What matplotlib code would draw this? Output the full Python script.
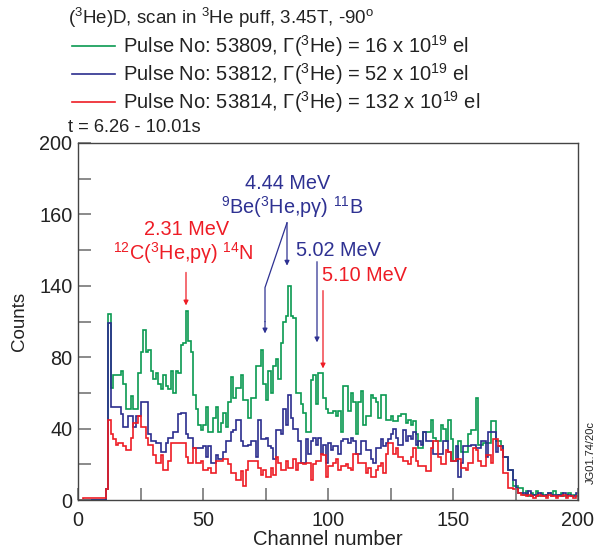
import numpy as np
import matplotlib
matplotlib.use("Agg")
import matplotlib.pyplot as plt
from matplotlib.lines import Line2D

plt.rcParams['font.family'] = ['Liberation Sans', 'DejaVu Sans']
plt.rcParams['mathtext.fontset'] = 'custom'
plt.rcParams['mathtext.rm'] = 'Liberation Sans'
plt.rcParams['mathtext.it'] = 'Liberation Sans:italic'
plt.rcParams['mathtext.bf'] = 'Liberation Sans:bold'

# ---------------- data ----------------
channels = np.arange(0, 201)  # bin edges

green_53809 = ([0] * 11 +
    [6, 104, 63, 70, 70, 70, 72, 65, 51, 51,
     58, 51, 51, 71, 83, 95, 83, 84, 72, 68,
     71, 65, 62, 70, 64, 62, 72, 60, 72, 71,
     87, 88, 106, 89, 83, 59, 51, 42, 39, 42,
     52, 38, 38, 46, 52, 38, 43, 49, 41, 55,
     69, 57, 63, 63, 70, 56, 56, 46, 57, 57,
     75, 75, 84, 65, 56, 72, 60, 75, 79, 68,
     88, 100, 103, 120, 103, 102, 60, 60, 54, 49,
     38, 38, 67, 70, 54, 71, 71, 57, 51, 49,
     49, 50, 47, 50, 38, 64, 64, 50, 60, 55,
     37, 55, 61, 42, 47, 47, 59, 57, 55, 46,
     59, 59, 45, 45, 47, 44, 44, 47, 48, 48,
     43, 45, 42, 44, 37, 29, 29, 38, 38, 38,
     45, 35, 33, 33, 42, 40, 33, 45, 34, 22,
     22, 33, 27, 27, 27, 37, 39, 39, 57, 31,
     31, 32, 32, 32, 44, 44, 33, 33, 30, 24,
     24, 17, 17, 8, 8, 7, 7,
     3, 5, 2, 4, 3, 5, 2, 4, 3, 2, 4, 3, 5, 2, 3, 4, 2, 3, 4, 2, 3, 2])

blue_53812 = ([0] * 11 +
    [6, 99, 52, 52, 52, 52, 48, 41, 41, 47,
     47, 41, 47, 47, 55, 55, 55, 37, 33, 33,
     32, 32, 27, 27, 32, 35, 35, 38, 38, 48,
     49, 49, 37, 35, 35, 29, 29, 29, 29, 30,
     24, 30, 21, 21, 25, 23, 23, 27, 33, 33,
     38, 39, 45, 45, 33, 30, 30, 31, 33, 33,
     24, 45, 34, 34, 35, 30, 29, 23, 39, 39,
     37, 51, 42, 59, 46, 40, 40, 33, 21, 21,
     34, 26, 33, 35, 31, 35, 26, 31, 21, 32,
     28, 30, 30, 26, 33, 34, 34, 32, 35, 33,
     26, 26, 33, 33, 28, 28, 23, 21, 29, 29,
     34, 30, 32, 34, 37, 40, 35, 31, 31, 39,
     33, 36, 34, 38, 31, 33, 31, 38, 33, 33,
     33, 26, 26, 26, 26, 33, 33, 27, 22, 22,
     30, 13, 21, 30, 30, 30, 31, 31, 29, 29,
     33, 33, 24, 38, 38, 38, 27, 30, 30, 24,
     24, 17, 17, 11, 7, 4, 4,
     4, 3, 5, 2, 3, 2, 4, 3, 2, 3, 4, 2, 3, 2, 3, 2, 4, 2, 3, 2, 2, 4])

red_53814 = ([0, 0, 1, 1, 1, 1, 1, 1, 1, 1, 1] +
    [6, 45, 37, 34, 31, 32, 32, 30, 28, 28,
     35, 43, 43, 47, 41, 41, 35, 31, 31, 25,
     21, 21, 25, 17, 17, 22, 32, 32, 32, 32,
     32, 32, 24, 21, 21, 29, 21, 21, 22, 17,
     17, 18, 15, 15, 22, 22, 22, 23, 23, 20,
     15, 15, 11, 11, 16, 8, 17, 22, 22, 22,
     22, 18, 14, 17, 13, 13, 18, 14, 24, 21,
     17, 17, 22, 18, 18, 23, 17, 21, 21, 20,
     21, 21, 11, 20, 22, 22, 26, 25, 13, 19,
     19, 21, 23, 17, 19, 19, 20, 18, 17, 26,
     26, 21, 21, 21, 15, 18, 13, 13, 17, 19,
     21, 15, 26, 32, 32, 26, 29, 24, 24, 22,
     22, 20, 24, 29, 22, 19, 19, 19, 16, 16,
     29, 33, 33, 24, 20, 20, 28, 27, 22, 22,
     23, 23, 18, 18, 17, 21, 21, 29, 28, 22,
     19, 19, 25, 25, 21, 34, 34, 30, 28, 15,
     15, 7, 7, 6, 6, 4,
     3, 3, 2, 3, 2, 1, 2, 3, 2, 2, 1, 3, 2, 2, 1, 2, 2, 3, 1, 2, 2, 1, 2])

legend_labels = [
    r"Pulse No: 53809, Γ($^3$He) = 16 x 10$^{19}$ el",
    r"Pulse No: 53812, Γ($^3$He) = 52 x 10$^{19}$ el",
    r"Pulse No: 53814, Γ($^3$He) = 132 x 10$^{19}$ el",
]
y_tick_values = [0, 40, 80, 120, 160, 200]
y_tick_labels = ["0", "40", "80", "140", "160", "200"]
x_tick_values = [0, 50, 100, 150, 200]

GREEN = '#0a9a52'
BLUE = '#2b2d8e'
RED = '#ee1c25'
TBLUE = '#2e3192'
TXT = '#222222'

W, H = 597, 552
fig = plt.figure(figsize=(W / 100, H / 100), dpi=100)
ax = fig.add_axes([78 / W, 1 - 500 / H, 500 / W, 357 / H])

series = [(green_53809, GREEN), (blue_53812, BLUE), (red_53814, RED)]
for vals, col in series:
    ax.stairs(vals, channels, color=col, lw=1.2, baseline=None)

ax.set_xlim(0, 200)
ax.set_ylim(0, 200)
ax.set_yticks(y_tick_values)
ax.set_yticklabels(y_tick_labels)
ax.set_yticks(np.arange(20, 200, 40), minor=True)
ax.set_xticks(x_tick_values)
ax.set_xticks([25, 75, 125, 175], minor=True)
ax.tick_params(which='both', direction='in', length=9, width=1.2, color='#777777',
               labelsize=14.3, labelcolor=TXT, top=False, right=False)
ax.tick_params(axis='x', pad=8)
ax.tick_params(axis='y', pad=4)
for sp in ax.spines.values():
    sp.set_color('#444444')
    sp.set_linewidth(1.0)

ax.set_xlabel("Channel number", fontsize=14.6, labelpad=0, color=TXT)
ax.set_ylabel("Counts", fontsize=13.5, labelpad=8, color=TXT)

# annotations
AFS = 14.3
arw = dict(arrowstyle='-|>', lw=0.9, mutation_scale=7, shrinkA=0, shrinkB=0)
ax.text(43.6, 151.4, "2.31 MeV", color=RED, fontsize=AFS, ha='center', va='center')
ax.text(42.0, 138.5, r"$^{12}$C($^3$He,pγ) $^{14}$N", color=RED, fontsize=AFS, ha='center', va='center')
ax.annotate("", xy=(43.2, 109), xytext=(43.2, 127.5), arrowprops=dict(color=RED, **arw))

ax.text(84, 177.5, "4.44 MeV", color=TBLUE, fontsize=AFS, ha='center', va='center')
ax.text(85.6, 164, r"$^9$Be($^3$He,pγ) $^{11}$B", color=TBLUE, fontsize=AFS, ha='center', va='center')
ax.annotate("", xy=(83.6, 131.3), xytext=(83.6, 155.3), arrowprops=dict(color=TBLUE, **arw))
ax.plot([83.6, 74.8, 74.8], [155.3, 119.0, 100], color=TBLUE, lw=0.9)
ax.annotate("", xy=(74.8, 93.3), xytext=(74.8, 100), arrowprops=dict(color=TBLUE, **arw))

ax.text(104, 140, "5.02 MeV", color=TBLUE, fontsize=AFS, ha='center', va='center')
ax.annotate("", xy=(95.6, 88.3), xytext=(95.6, 133.5), arrowprops=dict(color=TBLUE, **arw))

ax.text(114.8, 126, "5.10 MeV", color=RED, fontsize=AFS, ha='center', va='center')
ax.annotate("", xy=(98, 73.7), xytext=(98, 117.3), arrowprops=dict(color=RED, **arw))

# header text and legend
def fx(px):
    return px / W

def fy(py):
    return 1 - py / H

fig.text(fx(68), fy(18), r"($^3$He)D, scan in $^3$He puff, 3.45T, -90$^{\rm o}$",
         fontsize=13.5, ha='left', va='center', color=TXT)
for i, (lab, (_, col)) in enumerate(zip(legend_labels, series)):
    yy = fy(46 + 28 * i)
    fig.add_artist(Line2D([fx(72), fx(115)], [yy, yy], color=col, lw=1.2,
                          transform=fig.transFigure))
    fig.text(fx(123), yy, lab, fontsize=14.5, ha='left', va='center', color=TXT)
fig.text(fx(68), fy(128), "t = 6.26 - 10.01s", fontsize=13.2, ha='left', va='center',
         color=TXT)

fig.text(fx(591), fy(452), "JG01.74/20c", fontsize=8, rotation=90, ha='center',
         va='center', color=TXT)

fig.savefig("out.png", dpi=100, facecolor='white')
